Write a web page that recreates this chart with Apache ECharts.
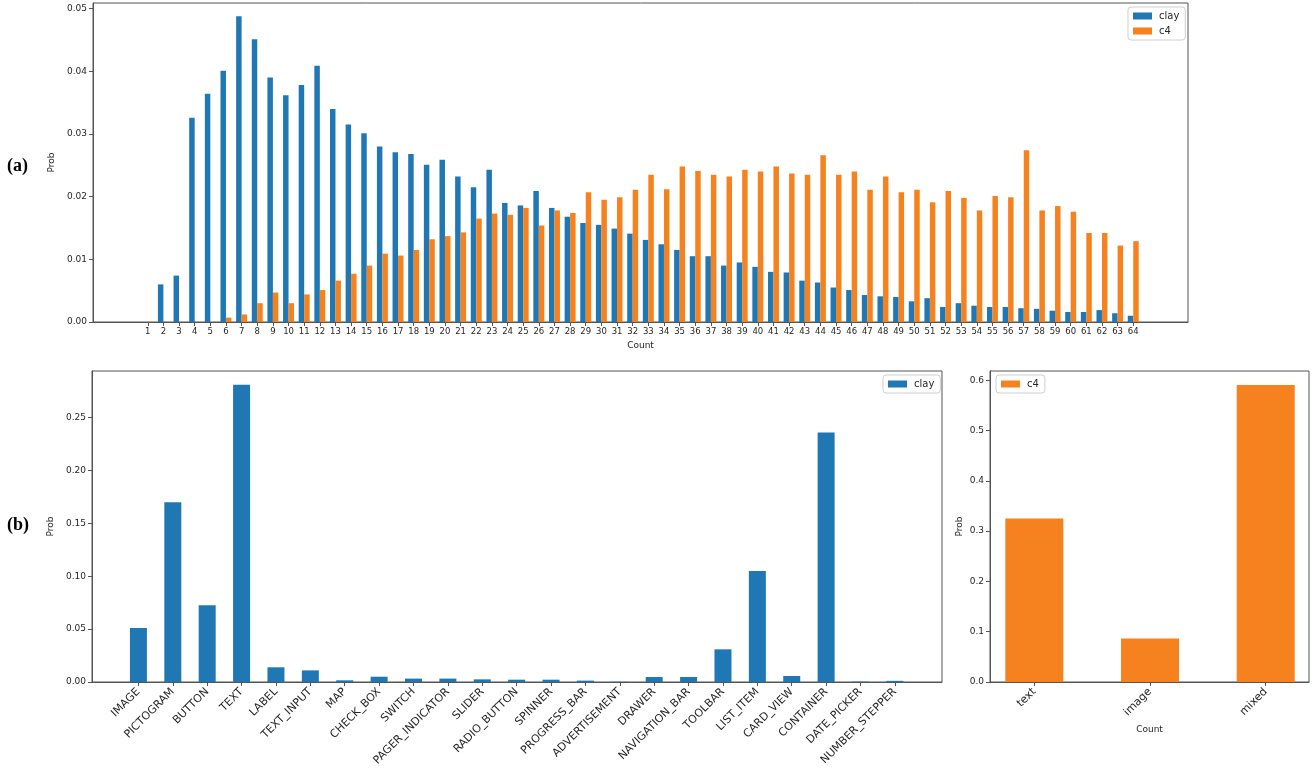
<!DOCTYPE html>
<html>
<head>
<meta charset="utf-8">
<script src="https://cdn.jsdelivr.net/npm/echarts@6/dist/echarts.min.js"></script>
<style>
html,body{margin:0;padding:0;background:#fff;}
#chart{width:1313px;height:776px;}
</style>
</head>
<body>
<div id="chart"></div>
<script>
// ---- (a) counts per screen ----
const countLabels = ['1','2','3','4','5','6','7','8','9','10','11','12','13','14','15','16','17','18','19','20','21','22','23','24','25','26','27','28','29','30','31','32','33','34','35','36','37','38','39','40','41','42','43','44','45','46','47','48','49','50','51','52','53','54','55','56','57','58','59','60','61','62','63','64'];
const clayCount = [0, 0.0060, 0.0074, 0.0326, 0.0364, 0.0401, 0.0488, 0.0451, 0.0390, 0.0362, 0.0378, 0.0409, 0.0340, 0.0315, 0.0301, 0.0280, 0.0271, 0.0268, 0.0251, 0.0259, 0.0232, 0.0215, 0.0243, 0.0190, 0.0186, 0.0209, 0.0182, 0.0168, 0.0158, 0.0155, 0.0149, 0.0141, 0.0131, 0.0124, 0.0115, 0.0105, 0.0105, 0.0090, 0.0095, 0.0088, 0.0080, 0.0079, 0.0066, 0.0063, 0.0055, 0.0051, 0.0043, 0.0041, 0.0040, 0.0033, 0.0038, 0.0024, 0.0030, 0.0026, 0.0024, 0.0024, 0.0022, 0.0021, 0.0018, 0.0016, 0.0016, 0.0019, 0.0014, 0.0010];
const c4Count = [0, 0, 0, 0, 0, 0.0007, 0.0012, 0.0030, 0.0047, 0.0030, 0.0044, 0.0051, 0.0066, 0.0077, 0.0090, 0.0109, 0.0106, 0.0115, 0.0132, 0.0137, 0.0143, 0.0165, 0.0173, 0.0171, 0.0182, 0.0154, 0.0178, 0.0174, 0.0207, 0.0195, 0.0199, 0.0211, 0.0235, 0.0212, 0.0248, 0.0241, 0.0235, 0.0232, 0.0243, 0.0240, 0.0248, 0.0237, 0.0235, 0.0266, 0.0235, 0.0240, 0.0211, 0.0232, 0.0207, 0.0211, 0.0191, 0.0209, 0.0198, 0.0178, 0.0201, 0.0199, 0.0274, 0.0178, 0.0185, 0.0176, 0.0142, 0.0142, 0.0122, 0.0129];
const countTicks = [0, 0.01, 0.02, 0.03, 0.04, 0.05];

// ---- (b) component types (clay) ----
const compLabels = ['IMAGE','PICTOGRAM','BUTTON','TEXT','LABEL','TEXT_INPUT','MAP','CHECK_BOX','SWITCH','PAGER_INDICATOR','SLIDER','RADIO_BUTTON','SPINNER','PROGRESS_BAR','ADVERTISEMENT','DRAWER','NAVIGATION_BAR','TOOLBAR','LIST_ITEM','CARD_VIEW','CONTAINER','DATE_PICKER','NUMBER_STEPPER'];
const clayComp = [0.0511, 0.1701, 0.0726, 0.2813, 0.0139, 0.0110, 0.0016, 0.0050, 0.0032, 0.0032, 0.0025, 0.0022, 0.0022, 0.0013, 0.0002, 0.0047, 0.0047, 0.0309, 0.1051, 0.0057, 0.2361, 0.0003, 0.0011];
const compTicks = [0, 0.05, 0.10, 0.15, 0.20, 0.25];

// ---- (b) content types (c4) ----
const typeLabels = ['text','image','mixed'];
const c4Type = [0.3253, 0.0864, 0.5907];
const typeTicks = [0, 0.1, 0.2, 0.3, 0.4, 0.5, 0.6];

// padding categories so the axis spans -2.5 .. 67.5
const padBefore = ['', '', ''];
const padAfter = ['', '', ''];
const topCats = padBefore.concat(countLabels, padAfter);
const pad = (arr) => padBefore.map(() => '-').concat(arr, padAfter.map(() => '-'));

const BLUE = '#1f77b4', ORANGE = '#f5821f';
const FONT = 'DejaVu Sans';
const AX = '#555';
const TXT = '#262626';

const chart = echarts.init(document.getElementById('chart'), null, {renderer: 'canvas'});

const legendCommon = {
  orient: 'vertical', icon: 'rect', itemWidth: 19, itemHeight: 7, itemGap: 5,
  padding: [4, 6, 4, 5], borderColor: '#cfcfcf', borderWidth: 1, borderRadius: 3,
  backgroundColor: '#fff', selectedMode: false,
  textStyle: {fontFamily: FONT, fontSize: 10, color: TXT, padding: [0, 0, 0, 2]}
};

const yCommon = (ticks, max, dec, gap, grid) => ({
  type: 'value', gridIndex: grid, min: 0, max: max,
  name: 'Prob', nameLocation: 'middle', nameGap: gap, nameRotate: 90,
  nameTextStyle: {fontFamily: FONT, fontSize: 9, color: TXT},
  axisLine: {show: true, onZero: false, lineStyle: {color: AX, width: 1}},
  axisTick: {show: true, length: 4, lineStyle: {color: AX}, customValues: ticks},
  axisLabel: {fontFamily: FONT, fontSize: 9, color: TXT, margin: 6, customValues: ticks,
    formatter: (v) => v.toFixed(dec)},
  splitLine: {show: false}
});

const option = {
  animation: false,
  backgroundColor: '#fff',
  grid: [
    {left: 93, top: 3, width: 1095, height: 319, show: true, borderColor: AX, borderWidth: 1, backgroundColor: 'transparent'},
    {left: 92, top: 371, width: 850, height: 311, show: true, borderColor: AX, borderWidth: 1, backgroundColor: 'transparent'},
    {left: 990, top: 371, width: 319, height: 311, show: true, borderColor: AX, borderWidth: 1, backgroundColor: 'transparent'}
  ],
  legend: [
    Object.assign({data: ['clay', 'c4'], left: 1128, top: 7}, legendCommon),
    Object.assign({data: ['clay'], left: 883, top: 375}, legendCommon),
    Object.assign({data: ['c4'], left: 996, top: 375}, legendCommon)
  ],
  xAxis: [
    {
      type: 'category', gridIndex: 0, data: topCats,
      name: 'Count', nameLocation: 'middle', nameGap: 19,
      nameTextStyle: {fontFamily: FONT, fontSize: 9, color: TXT},
      axisLine: {show: true, onZero: false, lineStyle: {color: AX, width: 1}},
      axisTick: {show: true, alignWithLabel: true, length: 4, lineStyle: {color: AX},
        interval: (i, v) => v !== ''},
      axisLabel: {interval: 0, fontFamily: FONT, fontSize: 8.5, color: TXT, margin: 5},
      splitLine: {show: false}
    },
    {
      type: 'value', gridIndex: 1, min: -1.35, max: 23.37,
      axisLine: {show: true, onZero: false, lineStyle: {color: AX, width: 1}},
      axisTick: {show: true, length: 4, lineStyle: {color: AX}, customValues: compLabels.map((_, i) => i)},
      axisLabel: {fontFamily: FONT, fontSize: 11, color: TXT, margin: 8, rotate: 45,
        customValues: compLabels.map((_, i) => i),
        formatter: (v) => compLabels[Math.round(v)]},
      splitLine: {show: false}
    },
    {
      type: 'value', gridIndex: 2, min: -0.383, max: 2.374,
      name: 'Count', nameLocation: 'middle', nameGap: 43,
      nameTextStyle: {fontFamily: FONT, fontSize: 9, color: TXT},
      axisLine: {show: true, onZero: false, lineStyle: {color: AX, width: 1}},
      axisTick: {show: true, length: 4, lineStyle: {color: AX}, customValues: typeLabels.map((_, i) => i)},
      axisLabel: {fontFamily: FONT, fontSize: 11, color: TXT, margin: 8, rotate: 45,
        customValues: typeLabels.map((_, i) => i),
        formatter: (v) => typeLabels[Math.round(v)]},
      splitLine: {show: false}
    }
  ],
  yAxis: [
    yCommon(countTicks, 0.0509, 2, 34, 0),
    yCommon(compTicks, 0.2942, 2, 34, 1),
    yCommon(typeTicks, 0.6185, 1, 26, 2)
  ],
  series: [
    {type: 'bar', name: 'clay', xAxisIndex: 0, yAxisIndex: 0, data: pad(clayCount),
      barWidth: '35%', barGap: '0%', itemStyle: {color: BLUE}},
    {type: 'bar', name: 'c4', xAxisIndex: 0, yAxisIndex: 0, data: pad(c4Count),
      barWidth: '35%', barGap: '0%', itemStyle: {color: ORANGE}},
    {type: 'bar', name: 'clay', xAxisIndex: 1, yAxisIndex: 1,
      data: clayComp.map((v, i) => [i, v]), barWidth: 17, itemStyle: {color: BLUE}},
    {type: 'bar', name: 'c4', xAxisIndex: 2, yAxisIndex: 2,
      data: c4Type.map((v, i) => [i, v]), barWidth: 58, itemStyle: {color: ORANGE}}
  ],
  graphic: [
    {type: 'text', left: 7, top: 157, style: {text: '(a)', fontFamily: 'Liberation Serif', fontWeight: 'bold', fontSize: 18, fill: '#000'}},
    {type: 'text', left: 7, top: 516, style: {text: '(b)', fontFamily: 'Liberation Serif', fontWeight: 'bold', fontSize: 18, fill: '#000'}}
  ]
};
chart.setOption(option);
</script>
</body>
</html>
